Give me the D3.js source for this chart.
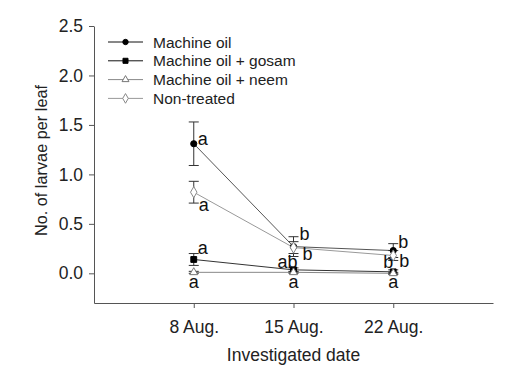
<!DOCTYPE html>
<html>
<head>
<meta charset="utf-8">
<script src="https://cdn.jsdelivr.net/npm/d3@7"></script>
<style>
  body { margin: 0; background: #fff; }
  text { font-family: Arial, "Liberation Sans", sans-serif; }
</style>
</head>
<body>
<div id="chart"></div>
<script>
const dates = ['8 Aug.', '15 Aug.', '22 Aug.']
const yTicks = [0, 0.5, 1.0, 1.5, 2.0, 2.5]

const seriesNames = ['Machine oil', 'Machine oil + gosam', 'Machine oil + neem', 'Non-treated']
const machineOil = [1.31, 0.27, 0.23]
const machineOilSE = [0.22, 0.1, 0.07]
const gosam = [0.14, 0.035, 0.015]
const gosamSE = [0.06, 0.02, 0.02]
const neem = [0.01, 0.01, 0.0]
const neemSE = [0.01, 0.01, 0.01]
const nonTreated = [0.82, 0.26, 0.18]
const nonTreatedSE = [0.11, 0.06, 0.05]

const machineOilLetters = ['a', 'b', 'b']
const gosamLetters = ['a', 'ab', 'b']
const neemLetters = ['a', 'a', 'a']
const nonTreatedLetters = ['a', 'b', 'b']

// label offsets per series (dx, dy) for each date
const letterOffsets = [
  [[4, 1], [6, -7], [5, -3]],
  [[4, -5], [-16, -2], [-10, -4]],
  [[0, 16], [0, 16], [0, 15]],
  [[5, 19], [9, 12], [6, 11]]
]
const letterAnchor = ['start', 'start', 'middle', 'start']

const series = [
  { name: seriesNames[0], values: machineOil, se: machineOilSE, letters: machineOilLetters, line: '#555', legendLine: '#111', symbol: 'circle', fill: '#000', stroke: '#000' },
  { name: seriesNames[1], values: gosam, se: gosamSE, letters: gosamLetters, line: '#333', legendLine: '#111', symbol: 'square', fill: '#000', stroke: '#000' },
  { name: seriesNames[2], values: neem, se: neemSE, letters: neemLetters, line: '#888', legendLine: '#888', symbol: 'triangle', fill: '#fff', stroke: '#777' },
  { name: seriesNames[3], values: nonTreated, se: nonTreatedSE, letters: nonTreatedLetters, line: '#999', legendLine: '#999', symbol: 'diamond', fill: '#fff', stroke: '#888' }
]

const width = 516
const height = 368

const svg = d3.select('#chart')
  .append('svg')
  .attr('width', width)
  .attr('height', height)

const x = d3.scaleLinear().domain([0, 4]).range([94, 493])
const y = d3.scaleLinear().domain([-0.3, 2.5]).range([303, 26])

// axes
const yAxis = svg.append('g')
  .attr('transform', 'translate(94,0)')
  .call(d3.axisLeft(y).tickValues(yTicks).tickSize(5).tickSizeOuter(0).tickFormat(d3.format('.1f')))
yAxis.select('.domain').attr('stroke', '#555')
yAxis.selectAll('.tick line').attr('stroke', '#555')
yAxis.selectAll('text').attr('font-size', 17.5).attr('fill', '#222').attr('dx', -3)

const xAxis = svg.append('g')
  .attr('transform', 'translate(0,303)')
  .call(d3.axisBottom(x).tickValues([1, 2, 3]).tickSize(5).tickSizeOuter(0).tickFormat((d, i) => dates[i]))
xAxis.select('.domain').attr('stroke', '#555')
xAxis.selectAll('.tick line').attr('stroke', '#555')
xAxis.selectAll('text').attr('font-size', 17.5).attr('fill', '#222').attr('y', 0).attr('dy', 30)

svg.append('text')
  .attr('x', 293.5)
  .attr('y', 361)
  .attr('text-anchor', 'middle')
  .attr('font-size', 17.5)
  .attr('fill', '#222')
  .text('Investigated date')

svg.append('text')
  .attr('transform', 'translate(47,' + y(1.14) + ') rotate(-90)')
  .attr('text-anchor', 'middle')
  .attr('font-size', 16.3)
  .attr('fill', '#222')
  .text('No. of larvae per leaf')

const symbolType = { circle: d3.symbolCircle, square: d3.symbolSquare, triangle: d3.symbolTriangle, diamond: d3.symbolDiamond }
const symbolSize = { circle: 30, square: 34, triangle: 28, diamond: 36 }

const line = d3.line()
  .x((d, i) => x(i + 1))
  .y(d => y(d))

// lines
series.forEach(s => {
  svg.append('path')
    .datum(s.values)
    .attr('d', line)
    .attr('fill', 'none')
    .attr('stroke', s.line)
    .attr('stroke-width', 1)
})

// error bars
series.forEach(s => {
  const g = svg.append('g')
  s.values.forEach((v, i) => {
    const cx = x(i + 1)
    g.append('line')
      .attr('x1', cx).attr('x2', cx)
      .attr('y1', y(v + s.se[i])).attr('y2', y(v - s.se[i]))
      .attr('stroke', '#333')
    ;[v + s.se[i], v - s.se[i]].forEach(e => {
      g.append('line')
        .attr('x1', cx - 5).attr('x2', cx + 5)
        .attr('y1', y(e)).attr('y2', y(e))
        .attr('stroke', '#333')
    })
  })
})

// points
series.forEach(s => {
  svg.append('g')
    .selectAll('path')
    .data(s.values)
    .enter()
    .append('path')
    .attr('transform', (d, i) => 'translate(' + x(i + 1) + ',' + y(d) + ')')
    .attr('d', d3.symbol().type(symbolType[s.symbol]).size(symbolSize[s.symbol]))
    .attr('fill', s.fill)
    .attr('stroke', s.stroke)
})

// significance letters
series.forEach((s, si) => {
  svg.append('g')
    .selectAll('text')
    .data(s.letters)
    .enter()
    .append('text')
    .attr('x', (d, i) => x(i + 1) + letterOffsets[si][i][0])
    .attr('y', (d, i) => y(s.values[i]) + letterOffsets[si][i][1])
    .attr('text-anchor', letterAnchor[si])
    .attr('font-size', 18)
    .attr('fill', '#111')
    .text(d => d)
})

// legend
const legend = svg.append('g')
series.forEach((s, i) => {
  const ly = 42 + i * 18.8
  legend.append('line')
    .attr('x1', 108).attr('x2', 143)
    .attr('y1', ly).attr('y2', ly)
    .attr('stroke', s.legendLine)
  legend.append('path')
    .attr('transform', 'translate(125.5,' + ly + ')')
    .attr('d', d3.symbol().type(symbolType[s.symbol]).size(symbolSize[s.symbol] * 0.75))
    .attr('fill', s.fill)
    .attr('stroke', s.stroke)
  legend.append('text')
    .attr('x', 153)
    .attr('y', ly + 5.5)
    .attr('font-size', 15.5)
    .attr('fill', '#222')
    .text(s.name)
})
</script>
</body>
</html>
